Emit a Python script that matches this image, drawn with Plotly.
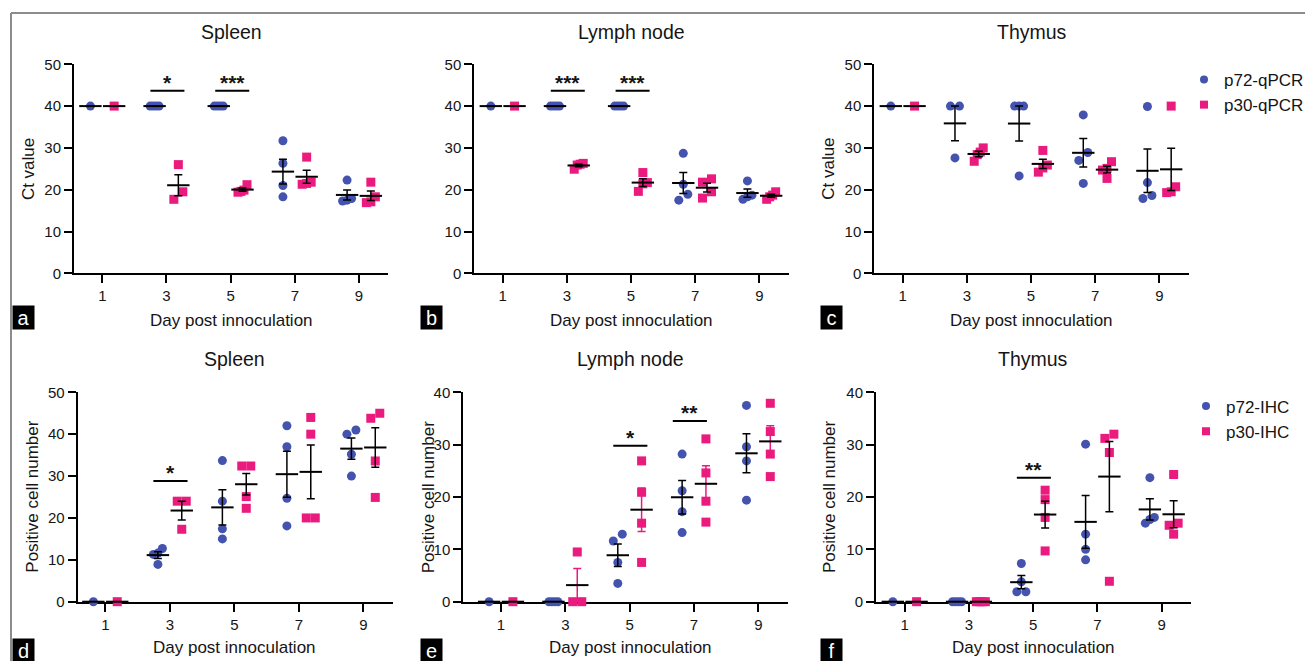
import numpy as np
import plotly.graph_objects as go

# ---------------- data ----------------
days = [1, 3, 5, 7, 9]
tick_labels = ["1", "3", "5", "7", "9"]

# qPCR Ct values, one list per day
spleen_p72_ct = [[40], [40, 40, 40, 40], [40, 40, 40, 40], [31.7, 26.3, 21.0, 18.3], [22.3, 17.3, 17.5, 17.9]]
spleen_p30_ct = [[40], [26.0, 17.7, 19.5], [21.2, 19.6, 19.4, 19.9], [27.8, 21.8, 21.3, 21.5], [21.8, 16.9, 17.1, 18.3]]
lymph_p72_ct = [[40], [40, 40, 40, 40], [40, 40, 40, 40], [28.7, 21.3, 18.9, 17.5], [22.1, 17.7, 18.7, 18.3]]
lymph_p30_ct = [[40], [24.9, 26.1, 25.9, 26.3], [24.1, 21.7, 19.6, 21.4], [22.6, 21.8, 19.5, 18.0], [19.5, 17.7, 18.3, 18.7]]
thymus_p72_ct = [[40], [40, 40, 27.6], [40, 40, 40, 23.3], [37.9, 28.9, 27.0, 21.5], [39.9, 21.7, 17.9, 18.6]]
thymus_p30_ct = [[40], [30.0, 29.0, 26.8, 28.4], [29.4, 25.9, 24.2, 25.2], [26.7, 25.1, 22.7, 24.7], [40.0, 19.5, 19.3, 20.7]]

# IHC positive cell numbers, one list per day
spleen_p72_ihc = [[0], [12.7, 11.6, 8.9, 11.3], [33.7, 24.0, 17.4, 15.0], [42.0, 37.0, 24.7, 18.1], [40.0, 41.0, 35.2, 30.0]]
spleen_p30_ihc = [[0], [24.0, 24.0, 17.3], [32.4, 32.4, 25.1, 22.3], [44.0, 40.0, 20.0, 20.0], [45.0, 43.8, 33.6, 24.9]]
lymph_p72_ihc = [[0], [0, 0, 0, 0], [12.9, 11.6, 7.5, 3.5], [28.2, 21.2, 17.2, 13.2], [37.5, 29.6, 26.9, 19.4]]
lymph_p30_ihc = [[0], [0, 0, 9.5], [26.9, 20.9, 15.0, 7.5], [31.1, 24.6, 19.2, 15.2], [37.9, 32.5, 28.2, 23.9]]
thymus_p72_ihc = [[0], [0, 0, 0, 0], [7.3, 3.8, 1.9, 1.9], [30.1, 12.9, 10.0, 8.0], [23.7, 16.1, 15.7, 15.0]]
thymus_p30_ihc = [[0], [0, 0, 0, 0], [21.3, 19.5, 16.1, 9.7], [32.0, 31.2, 28.5, 3.9], [24.3, 15.0, 14.6, 12.9]]

# significance marks: centre day, bar height, label
sig_a = {"day": [3.03, 5.05], "y": [43.7, 43.7], "text": ["*", "***"]}
sig_b = {"day": [3.03, 5.05], "y": [43.7, 43.7], "text": ["***", "***"]}
sig_c = {"day": [], "y": [], "text": []}
sig_d = {"day": [3.02], "y": [28.8], "text": ["*"]}
sig_e = {"day": [5.02, 6.87], "y": [29.8, 34.5], "text": ["*", "**"]}
sig_f = {"day": [5.02], "y": [23.7], "text": ["**"]}

titles = ["Spleen", "Lymph node", "Thymus", "Spleen", "Lymph node", "Thymus"]
letters = ["a", "b", "c", "d", "e", "f"]
series_names_top = ["p72-qPCR", "p30-qPCR"]
series_names_bot = ["p72-IHC", "p30-IHC"]

# ---------------- styling / layout constants ----------------
W, H = 1305, 661
BLUE = "#4353AE"
PINK = "#EA1A7E"
FONT = "Liberation Sans, Arial, Helvetica, sans-serif"
TXT = "#151515"

def px(x):
    return x / W

def py(y):
    return 1 - y / H

# panel geometry in pixels: x-left, x-right, y-top, y-bottom; x-range
panels = [
    dict(x0=74.0, x1=388.0, y0=64.3, y1=273.3, xr=[0.118, 9.905], yr=50, ytitle="Ct value", ytx=29.3,
         data=(spleen_p72_ct, spleen_p30_ct), sig=sig_a, tcx=231, xtx=231),
    dict(x0=474.3, x1=789.0, y0=64.3, y1=273.3, xr=[0.115, 9.926], yr=50, ytitle=None, ytx=None,
         data=(lymph_p72_ct, lymph_p30_ct), sig=sig_b, tcx=631.7, xtx=631.7),
    dict(x0=874.3, x1=1189.0, y0=64.3, y1=273.3, xr=[0.115, 9.926], yr=50, ytitle="Ct value", ytx=829,
         data=(thymus_p72_ct, thymus_p30_ct), sig=sig_c, tcx=1031.5, xtx=1031.5),
    dict(x0=77.7, x1=392.7, y0=392.3, y1=601.7, xr=[0.144, 9.91], yr=50, ytitle="Positive cell number", ytx=31.7,
         data=(spleen_p72_ihc, spleen_p30_ihc), sig=sig_d, tcx=234.5, xtx=234.5),
    dict(x0=463.3, x1=788.3, y0=392.3, y1=601.7, xr=[-0.172, 9.93], yr=40, ytitle="Positive cell number", ytx=428.3,
         data=(lymph_p72_ihc, lymph_p30_ihc), sig=sig_e, tcx=630, xtx=630),
    dict(x0=876.0, x1=1191.0, y0=392.3, y1=601.7, xr=[0.107, 9.91], yr=40, ytitle="Positive cell number", ytx=829,
         data=(thymus_p72_ihc, thymus_p30_ihc), sig=sig_f, tcx=1033, xtx=1033),
]

GROUP_OFF = 0.37      # day offset of each series
DIAM = 9.0            # marker diameter in px


def swarm(vals, ppu, ppd, diam=DIAM, maxw=9.0):
    """Spread points of similar value sideways (simple column scatter)."""
    n = len(vals)
    order = sorted(range(n), key=lambda i: vals[i])
    clusters, cur = [], [order[0]]
    for i in order[1:]:
        if (vals[i] - vals[cur[-1]]) * ppu < diam * 0.9:
            cur.append(i)
        else:
            clusters.append(cur)
            cur = [i]
    clusters.append(cur)
    offs = [0.0] * n
    for c in clusters:
        m = len(c)
        if m == 1:
            continue
        step = min(diam, maxw / (m - 1))
        for k, i in enumerate(c):
            offs[i] = (k - (m - 1) / 2) * step / ppd
    return offs


fig = go.Figure()
annotations = []
shapes = []

for p_i, p in enumerate(panels):
    ax = "" if p_i == 0 else str(p_i + 1)
    xa, ya = "x" + ax, "y" + ax
    ppd = (p["x1"] - p["x0"]) / (p["xr"][1] - p["xr"][0])
    ppu = (p["y1"] - p["y0"]) / p["yr"]
    legend_name = "legend" if p_i == 2 else ("legend2" if p_i == 5 else None)

    for s_i, series in enumerate(p["data"]):
        color = BLUE if s_i == 0 else PINK
        symbol = "circle" if s_i == 0 else "square"
        off = -GROUP_OFF if s_i == 0 else GROUP_OFF
        xs, ys = [], []
        for d, vals in zip(days, series):
            jit = swarm(vals, ppu, ppd)
            for v, j in zip(vals, jit):
                xs.append(d + off + j)
                ys.append(v)
        fig.add_trace(go.Scatter(
            x=xs, y=ys, mode="markers", xaxis=xa, yaxis=ya, showlegend=False,
            marker=dict(symbol=symbol, size=DIAM, color=color, line=dict(width=0)),
            cliponaxis=False, hoverinfo="skip"))
        means = [float(np.mean(v)) for v in series]
        sems = [float(np.std(v, ddof=1) / np.sqrt(len(v))) if len(v) > 1 else 0.0 for v in series]
        ebar_color = PINK if (p_i == 4 and s_i == 1) else "black"
        fig.add_trace(go.Scatter(
            x=[d + off for d in days], y=means, mode="markers", xaxis=xa, yaxis=ya, showlegend=False,
            marker=dict(symbol="line-ew", size=16, color="black", line=dict(width=2, color="black")),
            error_y=dict(type="data", array=sems, visible=True, color=ebar_color, thickness=1.5, width=4),
            cliponaxis=False, hoverinfo="skip"))

    # legend entries
    if legend_name:
        names = series_names_top if p_i == 2 else series_names_bot
        for s_i, nm in enumerate(names):
            fig.add_trace(go.Scatter(
                x=[None], y=[None], mode="markers", name=nm, xaxis=xa, yaxis=ya,
                legend=legend_name, showlegend=True,
                marker=dict(symbol="circle" if s_i == 0 else "square", size=8,
                            color=BLUE if s_i == 0 else PINK)))

    # axes
    axis_common = dict(showgrid=False, zeroline=False, showline=True, linewidth=2, linecolor="black",
                       ticks="outside", ticklen=8, tickwidth=2, tickcolor="black", automargin=False,
                       tickfont=dict(family=FONT, size=15, color=TXT), layer="below traces")
    fig.update_layout(**{
        "xaxis" + ax: dict(domain=[px(p["x0"]), px(p["x1"])], range=p["xr"], anchor=ya,
                           tickvals=days, ticktext=tick_labels, **axis_common),
        "yaxis" + ax: dict(domain=[py(p["y1"]), py(p["y0"])], range=[0, p["yr"]], anchor=xa,
                           tickvals=list(range(0, p["yr"] + 1, 10)), **axis_common),
    })

    # significance bars and stars
    for d, yv, t in zip(p["sig"]["day"], p["sig"]["y"], p["sig"]["text"]):
        shapes.append(dict(type="line", xref=xa, yref=ya, x0=d - 0.53, x1=d + 0.53, y0=yv, y1=yv,
                           line=dict(color="black", width=2)))
        annotations.append(dict(xref=xa, yref=ya, x=d, y=yv, text="<b>" + t + "</b>", showarrow=False,
                                xanchor="center", yanchor="bottom", yshift=-5,
                                font=dict(family=FONT, size=21, color=TXT)))

    row_top = p["y0"] < 300
    # panel title
    annotations.append(dict(xref="paper", yref="paper", x=px(p["tcx"]), y=py(31.7 if row_top else 359),
                            text=titles[p_i], showarrow=False, xanchor="center", yanchor="middle",
                            font=dict(family=FONT, size=19.5, color=TXT)))
    # x-axis title
    annotations.append(dict(xref="paper", yref="paper", x=px(p["xtx"]), y=py(320 if row_top else 647.7),
                            text="Day post innoculation", showarrow=False, xanchor="center", yanchor="middle",
                            font=dict(family=FONT, size=17, color=TXT)))
    # y-axis title
    if p["ytitle"]:
        annotations.append(dict(xref="paper", yref="paper", x=px(p["ytx"]),
                                y=py((p["y0"] + p["y1"]) / 2), text=p["ytitle"], textangle=-90,
                                showarrow=False, xanchor="center", yanchor="middle",
                                font=dict(family=FONT, size=17, color=TXT)))
    # panel letter (bottom row kept fully inside the picture)
    lx = [12, 420, 820][p_i % 3]
    ly = 305 if row_top else 638
    annotations.append(dict(xref="paper", yref="paper", x=px(lx), y=py(ly), text=letters[p_i],
                            showarrow=False, xanchor="left", yanchor="top", width=21, height=23,
                            bgcolor="black", borderpad=0, align="center", valign="middle",
                            font=dict(family=FONT, size=20, color="white")))

# frame lines of the figure
shapes.append(dict(type="line", xref="paper", yref="paper", x0=px(11), x1=1.0, y0=py(13), y1=py(13),
                   line=dict(color="#8c8c8c", width=2)))
shapes.append(dict(type="line", xref="paper", yref="paper", x0=px(11), x1=px(11), y0=py(13), y1=0,
                   line=dict(color="#8c8c8c", width=2)))

legend_common = dict(xanchor="left", yanchor="top", bgcolor="rgba(0,0,0,0)", borderwidth=0,
                     font=dict(family=FONT, size=17, color=TXT), itemwidth=30, tracegroupgap=0)

fig.update_layout(
    width=W, height=H, margin=dict(l=0, r=0, t=0, b=0, autoexpand=False),
    paper_bgcolor="white", plot_bgcolor="white",
    font=dict(family=FONT, color=TXT),
    showlegend=True,
    legend=dict(x=px(1184), y=py(62), **legend_common),
    legend2=dict(x=px(1186), y=py(388.5), **legend_common),
    annotations=annotations, shapes=shapes,
)

fig.write_html("out.html")
